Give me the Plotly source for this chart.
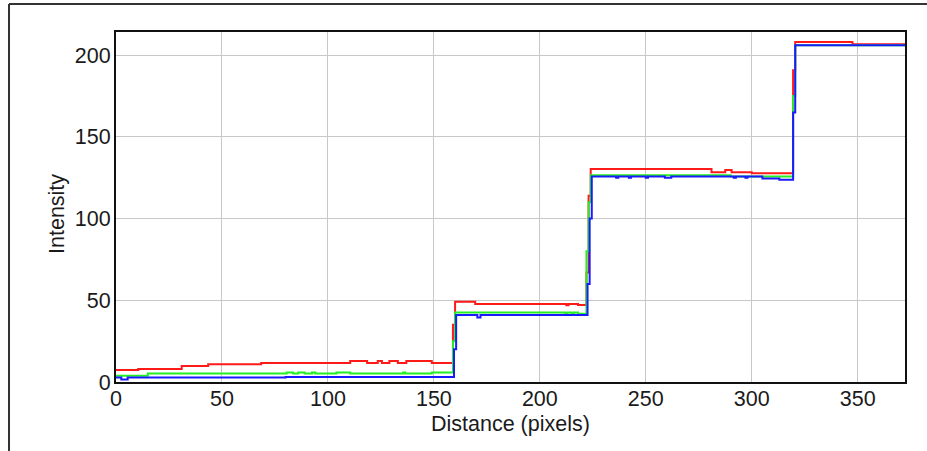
import plotly.graph_objects as go

# RGB intensity profile along a line: step breakpoints (distance, level) per channel
red_x = [0, 10.5, 31, 43.5, 68.5, 110.5, 118.5, 123.5, 125.5, 129, 133, 137, 149,
         159, 160, 169.5, 212.5, 213.5, 218, 222, 223, 224, 281, 287.5, 290.5, 300,
         319.5, 320.5, 347.5, 372.3]
red_y = [7.3, 8.0, 9.8, 10.8, 11.6, 12.8, 11.6, 12.8, 11.6, 12.8, 11.6, 12.8, 11.6,
         35, 49.1, 47.7, 46.9, 47.7, 47.1, 67, 114, 130.3, 128.3, 129.7, 128.3, 127.8,
         190.8, 208.1, 206.7, 206.7]

green_x = [0, 15, 80.5, 83.5, 86, 89, 92.5, 94, 104, 110.5, 135.5, 136.5, 149,
           159, 160, 212, 213, 215, 216, 218, 222, 223, 224, 290,
           319.5, 320.5, 372.3]
green_y = [3.9, 5.2, 5.8, 5.2, 5.8, 5.2, 5.8, 5.2, 5.8, 5.2, 5.8, 5.2, 5.8,
           25, 42.6, 41.8, 42.6, 41.8, 42.6, 41.8, 80, 110, 126.6, 125.8,
           175, 206.1, 206.1]

blue_x = [0, 2.5, 5.5, 80, 159.5, 160.5, 170.5, 172, 222.5, 223.5, 224.5,
          236, 237, 242, 243, 250, 251, 259, 262, 291.5, 292.5, 297, 298,
          305, 313, 319.5, 320.5, 372.3]
blue_y = [2.7, 1.6, 2.7, 3.1, 20, 41, 39.5, 41, 60, 100, 125.8,
          125.0, 125.8, 125.0, 125.8, 125.0, 125.8, 125.0, 125.8, 125.0, 125.8, 125.0, 125.8,
          124.5, 123.8, 165, 206.1, 206.1]

x_ticks = [0, 50, 100, 150, 200, 250, 300, 350]
y_ticks = [0, 50, 100, 150, 200]

fig = go.Figure()
for xs, ys, col in [(red_x, red_y, "#ff1a1a"),
                    (green_x, green_y, "#22f022"),
                    (blue_x, blue_y, "#1a1aff")]:
    fig.add_trace(go.Scatter(x=xs, y=ys, mode="lines", line_shape="hv",
                             line=dict(color=col, width=2), hoverinfo="skip"))

font = dict(family="Liberation Sans, Arial, sans-serif", size=21.5, color="#1a1a1a")

fig.update_layout(
    width=927, height=451,
    margin=dict(l=116, r=22, t=32, b=69),
    paper_bgcolor="white", plot_bgcolor="white",
    showlegend=False,
    font=font,
    xaxis=dict(range=[0, 372.3], tickvals=x_ticks, showgrid=True,
               gridcolor="#c8c8c8", gridwidth=1, zeroline=False,
               showline=True, linecolor="#111", linewidth=2, mirror=True,
               ticks="", ticklabelstandoff=-4, tickfont=font),
    yaxis=dict(range=[0, 214.2], tickvals=y_ticks, showgrid=True,
               gridcolor="#c8c8c8", gridwidth=1, zeroline=False,
               showline=True, linecolor="#111", linewidth=2, mirror=True,
               ticks="", ticklabelstandoff=-1, tickfont=font),
    annotations=[
        dict(text="Intensity", xref="paper", yref="paper", x=-0.0748, y=0.48,
             textangle=-90, showarrow=False, xanchor="center", yanchor="middle",
             font=font),
        dict(text="Distance (pixels)", xref="paper", yref="paper", x=0.5, y=-0.12,
             showarrow=False, xanchor="center", yanchor="middle", font=font),
    ],
    shapes=[
        # window frame: top edge and left edge
        dict(type="line", xref="paper", yref="paper", x0=-0.1356, x1=1.03,
             y0=1.08, y1=1.08, line=dict(color="#333", width=2)),
        dict(type="line", xref="paper", yref="paper", x0=-0.1356, x1=-0.1356,
             y0=1.08, y1=-0.2, line=dict(color="#333", width=2)),
    ],
)

fig.write_html("out.html", config={"displayModeBar": False})
